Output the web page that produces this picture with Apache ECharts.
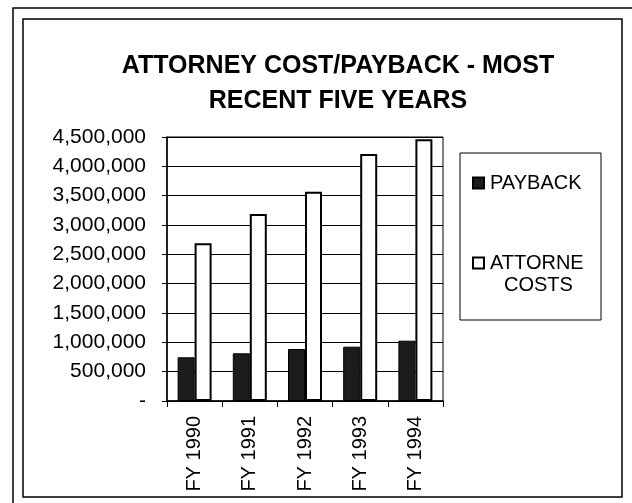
<!DOCTYPE html>
<html>
<head>
<meta charset="utf-8">
<script src="https://cdn.jsdelivr.net/npm/echarts@6/dist/echarts.min.js"></script>
<style>html,body{margin:0;padding:0;background:#fff;}#c{width:632px;height:503px;}</style>
</head>
<body>
<div id="c"></div>
<script>
var categories = ['FY 1990', 'FY 1991', 'FY 1992', 'FY 1993', 'FY 1994'];
var payback = [745000, 813000, 886000, 926000, 1028000];
var attorneyCosts = [2688000, 3187000, 3568000, 4210000, 4460000];
var seriesNames = ['PAYBACK', 'ATTORNE COSTS'];
var titleLines = ['ATTORNEY COST/PAYBACK - MOST', 'RECENT FIVE YEARS'];

var FONT = '"Liberation Sans", Arial, sans-serif';
var chart = echarts.init(document.getElementById('c'), null, {renderer: 'canvas'});

function fmt(v) {
  if (v === 0) return '-';
  return v.toString().replace(/\B(?=(\d{3})+(?!\d))/g, ',');
}

chart.setOption({
  animation: false,
  backgroundColor: '#fff',
  title: {
    text: titleLines.join('\n'),
    left: 333,
    top: 44,
    textAlign: 'center',
    textStyle: {fontFamily: FONT, fontWeight: 'bold', fontSize: 25, color: '#000', lineHeight: 35}
  },
  legend: {
    orient: 'vertical',
    left: 467,
    top: 168,
    itemGap: 60,
    itemWidth: 11,
    itemHeight: 11,
    icon: 'rect',
    data: seriesNames,
    formatter: function (n) { return n === seriesNames[1] ? 'ATTORNE' : n; },
    textStyle: {fontFamily: FONT, fontSize: 20, color: '#000', padding: [0, 0, 0, 1]}
  },
  grid: {left: 167, right: 189, top: 137, bottom: 102, show: true, borderColor: '#000', borderWidth: 1},
  xAxis: {
    type: 'category',
    data: categories,
    axisLine: {lineStyle: {color: '#000', width: 1.5}},
    axisTick: {show: true, length: 6, inside: false, lineStyle: {color: '#000'}},
    axisLabel: {rotate: 90, margin: 15, fontFamily: FONT, fontSize: 20, color: '#000'},
    splitLine: {show: false}
  },
  yAxis: {
    type: 'value',
    min: 0,
    max: 4500000,
    interval: 500000,
    axisLine: {show: true, lineStyle: {color: '#000', width: 1.5}},
    axisTick: {show: true, length: 5, lineStyle: {color: '#000'}},
    axisLabel: {margin: 21, fontFamily: FONT, fontSize: 21, color: '#000', formatter: fmt},
    splitLine: {show: true, lineStyle: {color: '#000', width: 1.2}}
  },
  series: [
    {
      name: seriesNames[0],
      type: 'bar',
      data: payback,
      barWidth: 17,
      barGap: '0%',
      itemStyle: {color: '#1c1c1c', borderColor: '#000', borderWidth: 1}
    },
    {
      name: seriesNames[1],
      type: 'bar',
      data: attorneyCosts,
      barWidth: 17,
      barGap: '0%',
      itemStyle: {color: '#fff', borderColor: '#000', borderWidth: 2}
    }
  ],
  graphic: [
    {type: 'rect', shape: {x: 13, y: 8, width: 640, height: 520}, style: {fill: 'none', stroke: '#000', lineWidth: 1.5}, silent: true},
    {type: 'rect', shape: {x: 23, y: 19, width: 599, height: 478}, style: {fill: 'none', stroke: '#000', lineWidth: 1.5}, silent: true},
    {type: 'rect', shape: {x: 460, y: 153, width: 141, height: 167}, style: {fill: 'none', stroke: '#000', lineWidth: 1}, silent: true},
    {type: 'text', left: 504, top: 275, style: {text: 'COSTS', font: '20px ' + FONT, fill: '#000'}, silent: true}
  ]
});
</script>
</body>
</html>
